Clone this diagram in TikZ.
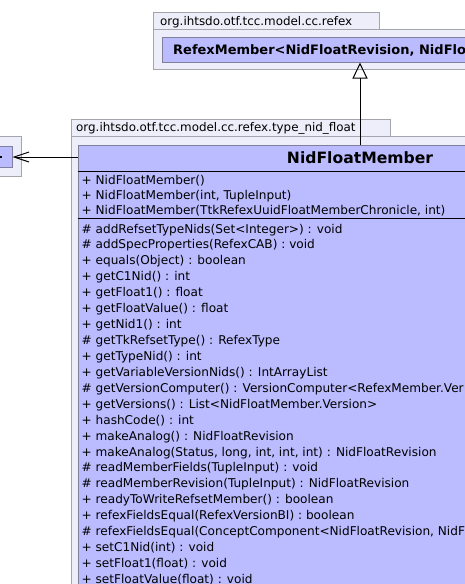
\documentclass[tikz,border=0pt]{standalone}
\usepackage{fontspec}
\setmainfont{DejaVu Sans}
\usetikzlibrary{arrows.meta}
\definecolor{pkgfill}{HTML}{EEEEFA}
\definecolor{pkgline}{HTML}{A4A4AC}
\definecolor{clsfill}{HTML}{BBBBFF}
\definecolor{clsline}{HTML}{80809C}
\begin{document}
\begin{tikzpicture}[x=1pt,y=-1pt,
  pkg/.style={draw=pkgline,fill=pkgfill,line width=1pt},
  cls/.style={draw=clsline,fill=clsfill,line width=1pt,inner sep=0pt,rectangle},
  pkglabel/.style={anchor=base west,inner sep=0pt,font=\fontsize{11.9}{14}\selectfont},
  member/.style={anchor=base west,inner sep=0pt,font=\fontsize{12.1}{14}\selectfont},
  sep/.style={draw=black,line width=1pt}]
\useasboundingbox (0,0) rectangle (465,584);
\clip (0,0) rectangle (465,584);
\fill[white] (0,0) rectangle (465,584);
% package refex
\draw[pkg] (153,12) rectangle (379,29);
\draw[pkg] (153,29) rectangle (700,69);
\node[pkglabel] (pkgA) at (160,25.5) {org.ihtsdo.otf.tcc.model.cc.refex};
\node[cls,minimum width=396pt,minimum height=25pt] (refex) at (360,49.5) {};
\node[anchor=base west,inner sep=0pt,font=\bfseries\fontsize{13}{15}\selectfont] (refexname) at (173,54) {RefexMember<NidFloatRevision, NidFlo};
% package type_nid_float
\draw[pkg] (71,119) rectangle (390,136);
\draw[pkg] (71,136) rectangle (700,800);
\node[pkglabel] (pkgB) at (76,131.5) {org.ihtsdo.otf.tcc.model.cc.refex.type\_nid\_float};
% left external box
\draw[pkg] (-40,136) rectangle (21,176);
\node[cls,minimum width=52pt,minimum height=21pt] (ext) at (-14,157) {};
\fill[black] (0,156) rectangle (1.6,158);
% main class
\node[cls,minimum width=564pt,minimum height=700pt,anchor=north] (cls) at (360,145) {};
\node[anchor=base,inner sep=0pt,font=\bfseries\fontsize{15.6}{18}\selectfont] (title) at (360,163.5) {NidFloatMember};
\draw[sep] (cls.north west |- 0,171) -- (cls.north east |- 0,171);
\draw[sep] (cls.north west |- 0,218.5) -- (cls.north east |- 0,218.5);
\node[member] (c1) at (81.5,184.7) {+ NidFloatMember()};
\node[member] (c2) at (81.5,199.8) {+ NidFloatMember(int, TupleInput)};
\node[member] (c3) at (81.5,214.8) {+ NidFloatMember(TtkRefexUuidFloatMemberChronicle, int)};
\foreach \t [count=\i from 0] in {
 {\# addRefsetTypeNids(Set<Integer>) : void},
 {\# addSpecProperties(RefexCAB) : void},
 {+ equals(Object) : boolean},
 {+ getC1Nid() : int},
 {+ getFloat1() : float},
 {+ getFloatValue() : float},
 {+ getNid1() : int},
 {\# getTkRefsetType() : RefexType},
 {+ getTypeNid() : int},
 {+ getVariableVersionNids() : IntArrayList},
 {\# getVersionComputer() : VersionComputer<RefexMember.Ver},
 {+ getVersions() : List<NidFloatMember.Version>},
 {+ hashCode() : int},
 {+ makeAnalog() : NidFloatRevision},
 {+ makeAnalog(Status, long, int, int, int) : NidFloatRevision},
 {\# readMemberFields(TupleInput) : void},
 {\# readMemberRevision(TupleInput) : NidFloatRevision},
 {+ readyToWriteRefsetMember() : boolean},
 {+ refexFieldsEqual(RefexVersionBI) : boolean},
 {\# refexFieldsEqual(ConceptComponent<NidFloatRevision, NidFl},
 {+ setC1Nid(int) : void},
 {+ setFloat1(float) : void},
 {+ setFloatValue(float) : void}}
 {\node[member] (m\i) at (81.5,233+15.93*\i) {\t};}
% connectors
\draw[line width=1pt,-{Triangle[open,length=16pt,width=15pt]}] (cls.north) -- (refex.south);
\draw[line width=1pt,-{Straight Barb[length=15pt,width=10pt]}] (cls.west |- ext.east) -- (ext.east);
\end{tikzpicture}
\end{document}
